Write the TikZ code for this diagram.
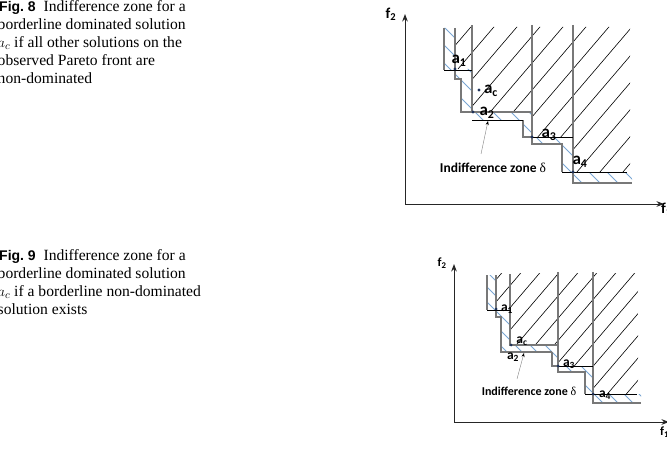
\documentclass[tikz,border=0pt]{standalone}
\usepackage{fontspec}
\setmainfont{Liberation Serif}
\newfontfamily\capsans{Liberation Sans}
\newfontfamily\labfont{Carlito}
\usetikzlibrary{arrows.meta}

\definecolor{hatchblue}{RGB}{120,165,210}
\definecolor{stairgray}{RGB}{120,120,120}
\definecolor{dotblue}{RGB}{30,50,90}
\newcommand{\sol}[1]{a\textsubscript{#1}}

\begin{document}
\begin{tikzpicture}[
  x=1pt, y=-1pt,
  >=Stealth,
  axis/.style={->,line width=1pt,black!85},
  stair/.style={draw=stairgray,line width=1.3pt},
  edge/.style={draw=black,line width=0.7pt},
  hatch/.style={black,line width=0.6pt},
  bluehatch/.style={hatchblue,line width=0.8pt},
  figcaption/.style={anchor=north west,inner sep=0pt,align=left,font=\fontsize{15.6}{18}\selectfont},
  solbig/.style={font=\labfont\bfseries\fontsize{17}{17}\selectfont,inner sep=0pt},
  solsmall/.style={font=\labfont\bfseries\fontsize{13.5}{13.5}\selectfont,inner sep=0pt},
  zone/.style={-{Stealth[black,length=4pt,width=3pt]},gray,line width=0.4pt}
]
\useasboundingbox (0,0) rectangle (667,460);

% captions
\node[figcaption] (cap8) at (-2.5,0.5) {\hspace*{1.5pt}{\capsans\bfseries\fontsize{14}{18}\selectfont Fig.~8}\hspace{0.5em}Indifference zone for a\\
  borderline dominated solution\\
  $a_c$ if all other solutions on the\\
  observed Pareto front are\\
  non-dominated};
\node[figcaption] (cap9) at (-2.5,249.5) {\hspace*{1.5pt}{\capsans\bfseries\fontsize{14}{18}\selectfont Fig.~9}\hspace{0.5em}Indifference zone for a\\
  borderline dominated solution\\
  $a_c$ if a borderline non-dominated\\
  solution exists};

%%% Fig. 8
\coordinate (o8) at (405,204);
\coordinate (ytop8) at (405,14);
\coordinate (xend8) at (664,204);
\draw[axis] (o8) -- (ytop8);
\draw[axis] (o8) -- (xend8);
\node[solsmall,font=\labfont\bfseries\fontsize{15}{15}\selectfont] (f2a) at (391,14) {f\textsubscript{2}};
\node[solsmall,font=\labfont\bfseries\fontsize{15}{15}\selectfont,anchor=west] (f1a) at (661,209) {f\textsubscript{1}};

% dominated area
\begin{scope}
  \clip (455,27) -- (455,69) -- (472,69) -- (472,112) -- (532,112) -- (532,137)
    -- (573,137) -- (573,172) -- (630,172) -- (630,27) -- cycle;
  \foreach \s in {300,323,...,650}
    \draw[hatch] (\s,200) -- ++(200,-234);
\end{scope}
% indifference zone
\begin{scope}
  \clip (444,28) -- (444,70) -- (455,70) -- (455,79) -- (461,79) -- (461,112)
    -- (472,112) -- (472,120) -- (523,120) -- (523,137) -- (532,137) -- (532,144)
    -- (562,144) -- (562,172) -- (573,172) -- (573,183) -- (632,183) -- (632,172)
    -- (573,172) -- (573,137) -- (532,137) -- (532,112) -- (472,112) -- (472,69)
    -- (455,69) -- (455,28) -- cycle;
  \foreach \s in {255,273,...,620}
    \draw[bluehatch] (\s,0) -- ++(250,250);
\end{scope}

\draw[stair] (444,28) -- (444,70);
\draw[stair] (455,28) -- (455,79) -- (461,79) -- (461,112) -- (532,112);
\draw[stair] (472,25) -- (472,112);
\draw[stair] (532,25) -- (532,144) -- (562,144) -- (562,172);
\draw[stair] (523,120) -- (523,137) -- (532,137);
\draw[stair] (573,25) -- (573,183) -- (632,183);
\draw[edge] (444,70) -- (472,70);
\draw[edge] (472,120) -- (523,120);
\draw[edge] (532,137) -- (573,137);
\draw[edge] (562,172) -- (627,172);

\coordinate (a1) at (455,69);
\coordinate (a2) at (473,112);
\coordinate (a3) at (532,137);
\coordinate (a4) at (573,172);
\coordinate (ac) at (479,90);
\foreach \p in {a1,a2,a3,a4,ac}
  \fill[dotblue] (\p) circle (1.7pt);
\node[solbig] (la1) at (459,61) {\sol{1}};
\node[solbig] (la2) at (487,113) {\sol{2}};
\node[solbig] (la3) at (549,135) {\sol{3}};
\node[solbig] (la4) at (580,162) {\sol{4}};
\node[solbig] (lac) at (491,91) {\sol{c}};

\node[solsmall] (zone8) at (493,168) {Indifference zone {\rmfamily\mdseries δ}};
\coordinate (tip8) at (488,121);
\coordinate (from8) at (481,154);
\draw[zone] (from8) -- (tip8);

%%% Fig. 9
\coordinate (o9) at (454,422);
\coordinate (ytop9) at (454,264);
\coordinate (xend9) at (669,422);
\draw[axis] (o9) -- (ytop9);
\draw[axis] (o9) -- (xend9);
\node[solsmall,font=\labfont\bfseries\fontsize{12.5}{12.5}\selectfont] (f2b) at (442,263) {f\textsubscript{2}};
\node[solsmall,font=\labfont\bfseries\fontsize{12.5}{12.5}\selectfont,anchor=west] (f1b) at (660,432) {f\textsubscript{1}};

% dominated area
\begin{scope}
  \clip (496,273) -- (496,309) -- (510,309) -- (510,345) -- (558,345) -- (558,366)
    -- (593,366) -- (593,394) -- (638,394) -- (638,273) -- cycle;
  \foreach \s in {340,359,...,660}
    \draw[hatch] (\s,440) -- ++(200,-234);
\end{scope}
% indifference zone
\begin{scope}
  \clip (487,275) -- (487,310) -- (496,310) -- (496,317) -- (501,317) -- (501,352)
    -- (552,352) -- (552,366) -- (558,366) -- (558,372) -- (585,372) -- (585,394)
    -- (593,394) -- (593,403) -- (641,403) -- (641,394) -- (593,394) -- (593,366)
    -- (558,366) -- (558,345) -- (510,345) -- (510,309) -- (496,309) -- (496,275) -- cycle;
  \foreach \s in {320,335,...,620}
    \draw[bluehatch] (\s,240) -- ++(250,250);
\end{scope}

\draw[stair] (487,275) -- (487,310);
\draw[stair] (496,275) -- (496,317) -- (501,317) -- (501,352) -- (552,352);
\draw[stair] (510,274) -- (510,345) -- (558,345);
\draw[stair] (558,272) -- (558,372) -- (585,372) -- (585,394);
\draw[stair] (552,352) -- (552,366) -- (558,366);
\draw[stair] (593,272) -- (593,403) -- (641,403);
\draw[edge] (487,310) -- (510,310);
\draw[edge] (558,366) -- (593,366);
\draw[edge] (585,394) -- (637,394);

\coordinate (b1) at (496,309);
\coordinate (bc) at (511,345);
\coordinate (b3) at (558,366);
\coordinate (b4) at (593,394);
\foreach \p in {b1,bc,b3,b4}
  \fill[dotblue] (\p) circle (1.5pt);
\node[solsmall] (lb1) at (507,309) {\sol{1}};
\node[solsmall] (lbc) at (522,341) {\sol{c}};
\node[solsmall] (lb2) at (513,357) {\sol{2}};
\node[solsmall] (lb3) at (569,364) {\sol{3}};
\node[solsmall] (lb4) at (605,395) {\sol{4}};

\node[solsmall,font=\labfont\bfseries\fontsize{12}{12}\selectfont] (zone9) at (529,391) {Indifference zone {\rmfamily\mdseries δ}};
\coordinate (tip9) at (524,353);
\coordinate (from9) at (517,379);
\draw[zone] (from9) -- (tip9);
\end{tikzpicture}
\end{document}
